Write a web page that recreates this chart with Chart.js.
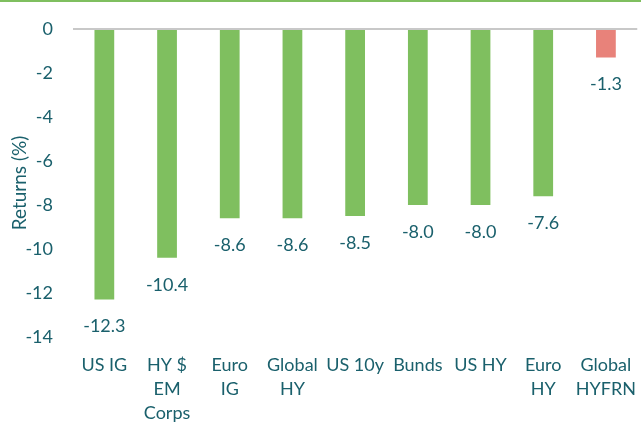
<!DOCTYPE html>
<html>
<head>
<meta charset="utf-8">
<script src="https://cdn.jsdelivr.net/npm/chart.js@4.4.1/dist/chart.umd.min.js"></script>
<style>
  html, body { margin: 0; padding: 0; background: #fff; overflow: hidden; }
  #topline { position: absolute; left: 0; top: 0; width: 641px; height: 2px; background: #7fbf5f; }
  #wrap { position: absolute; left: 0; top: 0; width: 644px; height: 423px; }
</style>
</head>
<body>
<div id="wrap"><canvas id="chart"></canvas></div>
<div id="topline"></div>
<script>
const categories = [
  ["US IG"], ["HY $", "EM", "Corps"], ["Euro", "IG"], ["Global", "HY"],
  ["US 10y"], ["Bunds"], ["US HY"], ["Euro", "HY"], ["Global", "HYFRN"]
];
const returns = [-12.3, -10.4, -8.6, -8.6, -8.5, -8.0, -8.0, -7.6, -1.3];
const barColors = ["#7fbf5f", "#7fbf5f", "#7fbf5f", "#7fbf5f", "#7fbf5f", "#7fbf5f", "#7fbf5f", "#7fbf5f", "#e8827a"];
const yTicks = { min: -14, max: 0, step: 2 };

const textColor = "#1a606c";
const fontFamily = "Lato, 'Open Sans', sans-serif";

// value labels under each bar end
const valueLabels = {
  id: "valueLabels",
  afterDatasetsDraw(chart) {
    const ctx = chart.ctx;
    const meta = chart.getDatasetMeta(0);
    ctx.save();
    ctx.font = "18px " + fontFamily;
    ctx.fillStyle = textColor;
    ctx.textAlign = "center";
    ctx.textBaseline = "middle";
    meta.data.forEach((bar, i) => {
      ctx.fillText(returns[i].toFixed(1), bar.x, bar.y + 27);
    });
    ctx.restore();
  }
};

new Chart(document.getElementById("chart"), {
  type: "bar",
  data: {
    labels: categories,
    datasets: [{
      data: returns,
      backgroundColor: barColors,
      borderWidth: 0,
      barPercentage: 0.63,
      categoryPercentage: 0.5
    }]
  },
  options: {
    responsive: true,
    maintainAspectRatio: false,
    animation: false,
    events: [],
    layout: { padding: { top: 20, bottom: 0, left: 0, right: 0 } },
    plugins: { legend: { display: false }, tooltip: { enabled: false } },
    scales: {
      x: {
        grid: { display: false },
        border: { display: false },
        ticks: {
          color: textColor,
          font: { family: fontFamily, size: 18, lineHeight: 1.33 },
          padding: 8,
          maxRotation: 0,
          autoSkip: false
        },
        afterFit(scale) { scale.height = 86; }
      },
      y: {
        min: yTicks.min,
        max: yTicks.max,
        border: { display: false },
        grid: {
          color: (c) => c.tick && c.tick.value === 0 ? "#c8c8c8" : "rgba(0,0,0,0)",
          lineWidth: 2,
          drawTicks: false
        },
        ticks: {
          stepSize: yTicks.step,
          color: textColor,
          font: { family: fontFamily, size: 18, lineHeight: 1.0 },
          padding: 20
        },
        title: {
          display: true,
          text: "Returns (%)",
          color: textColor,
          font: { family: fontFamily, size: 19 },
          padding: { top: 8, bottom: 0 }
        },
        afterFit(scale) { scale.width = 73; }
      }
    }
  },
  plugins: [valueLabels]
});
</script>
</body>
</html>
